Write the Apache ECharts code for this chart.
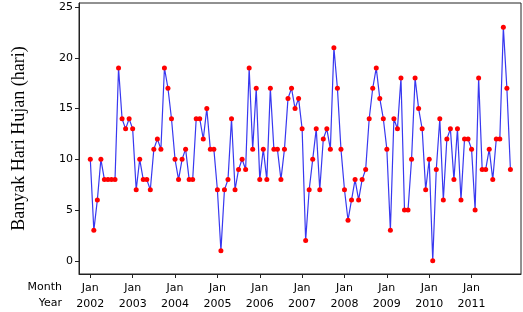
<!DOCTYPE html>
<html>
<head>
<meta charset="utf-8">
<script src="https://cdn.jsdelivr.net/npm/echarts@6/dist/echarts.min.js"></script>
<style>
html, body { margin: 0; padding: 0; background: #fff; }
#chart { width: 523px; height: 312px; }
</style>
</head>
<body>
<div id="chart"></div>
<script>
// monthly rain days, Jan 2002 .. Dec 2011
var years = [2002, 2003, 2004, 2005, 2006, 2007, 2008, 2009, 2010, 2011];
var hariHujan = [
    10, 3, 6, 10, 8, 8, 8, 8, 19, 14, 13, 14,   // 2002
    13, 7, 10, 8, 8, 7, 11, 12, 11, 19, 17, 14, // 2003
    10, 8, 10, 11, 8, 8, 14, 14, 12, 15, 11, 11, // 2004
    7, 1, 7, 8, 14, 7, 9, 10, 9, 19, 11, 17,    // 2005
    8, 11, 8, 17, 11, 11, 8, 11, 16, 17, 15, 16, // 2006
    13, 2, 7, 10, 13, 7, 12, 13, 11, 21, 17, 11, // 2007
    7, 4, 6, 8, 6, 8, 9, 14, 17, 19, 16, 14,    // 2008
    11, 3, 14, 13, 18, 5, 5, 10, 18, 15, 13, 7, // 2009
    10, 0, 9, 14, 6, 12, 13, 8, 13, 6, 12, 12,  // 2010
    11, 5, 18, 9, 9, 11, 8, 12, 12, 23, 17, 9   // 2011
];
var yTicks = [0, 5, 10, 15, 20, 25];

var points = hariHujan.map(function (v, i) { return [i, v]; });
var janIdx = years.map(function (y, k) { return k * 12; });

var chart = echarts.init(document.getElementById('chart'));
var lbl = { fontFamily: 'DejaVu Sans', fontSize: 11, color: '#000' };

chart.setOption({
    animation: false,
    grid: {
        left: 79, right: 2, top: 3, bottom: 36,
        show: true, borderColor: '#222', borderWidth: 1
    },
    xAxis: {
        type: 'value',
        min: -3.2,
        max: 122,
        axisLine: { show: true, onZero: false, lineStyle: { color: '#222' } },
        axisTick: { show: true, length: 4, customValues: janIdx, lineStyle: { color: '#222' } },
        splitLine: { show: false },
        axisLabel: {
            customValues: janIdx,
            margin: 6,
            lineHeight: 16,
            fontFamily: lbl.fontFamily, fontSize: lbl.fontSize, color: lbl.color,
            formatter: function (v) { return 'Jan\n' + years[Math.round(v / 12)]; }
        }
    },
    yAxis: {
        type: 'value',
        min: -1.3,
        max: 25.4,
        name: 'Banyak Hari Hujan (hari)',
        nameLocation: 'middle',
        nameGap: 51,
        nameTextStyle: { fontFamily: 'Liberation Serif', fontSize: 18, color: '#000' },
        axisLine: { show: true, onZero: false, lineStyle: { color: '#222' } },
        axisTick: { show: true, length: 4, customValues: yTicks, lineStyle: { color: '#222' } },
        splitLine: { show: false },
        axisLabel: {
            customValues: yTicks,
            margin: 6,
            fontFamily: lbl.fontFamily, fontSize: lbl.fontSize, color: lbl.color
        }
    },
    graphic: [
        { type: 'text', right: 461, top: 282, style: { text: 'Month', font: '11px "DejaVu Sans"', fill: '#000', textAlign: 'right' } },
        { type: 'text', right: 461, top: 298, style: { text: 'Year', font: '11px "DejaVu Sans"', fill: '#000', textAlign: 'right' } }
    ],
    series: [{
        type: 'line',
        data: points,
        symbol: 'circle',
        symbolSize: 5,
        lineStyle: { color: '#3838f0', width: 1.2 },
        itemStyle: { color: '#ff0000', borderWidth: 0 }
    }]
});
</script>
</body>
</html>
